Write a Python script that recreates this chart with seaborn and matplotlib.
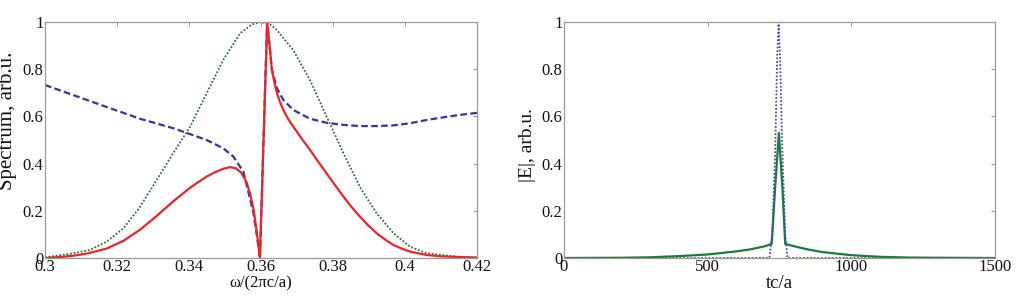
import numpy as np
import pandas as pd
import matplotlib
matplotlib.use("Agg")
import matplotlib.pyplot as plt
from matplotlib.ticker import FuncFormatter
import seaborn as sns

# --- left panel: spectra vs normalized frequency ---
w_green = [0.300, 0.3079, 0.3125, 0.3171, 0.3218, 0.3264, 0.331, 0.3356, 0.3403,
           0.3449, 0.3495, 0.3542, 0.3575, 0.360, 0.3625, 0.3644, 0.369, 0.3736, 0.3782,
           0.3829, 0.3875, 0.3921, 0.3968, 0.4014, 0.406, 0.415, 0.420]
s_green = [0.003, 0.02, 0.034, 0.069, 0.126, 0.217, 0.33, 0.444, 0.556,
           0.698, 0.839, 0.952, 0.99, 1.0, 0.99, 0.966, 0.88, 0.754, 0.60,
           0.444, 0.30, 0.19, 0.105, 0.048, 0.02, 0.005, 0.001]

w_red = [0.300, 0.304, 0.308, 0.312, 0.3171, 0.3218, 0.3264, 0.331, 0.3356, 0.3403,
         0.343, 0.3449, 0.347, 0.3495, 0.3514, 0.353, 0.3545, 0.356, 0.357, 0.358,
         0.359, 0.3597, 0.3617, 0.3624, 0.363, 0.3637, 0.3644, 0.3653, 0.3662, 0.3675,
         0.369, 0.3713, 0.3736, 0.3759, 0.3782, 0.3805, 0.3829, 0.3852, 0.3875, 0.3898,
         0.3921, 0.3945, 0.3968, 0.3991, 0.4014, 0.406, 0.410, 0.415, 0.420]
s_red = [0.0, 0.004, 0.01, 0.02, 0.04, 0.073, 0.12, 0.178, 0.24, 0.298,
         0.326, 0.345, 0.362, 0.378, 0.385, 0.38, 0.362, 0.32, 0.27, 0.20,
         0.09, 0.0, 1.0, 0.9, 0.80, 0.745, 0.70, 0.66, 0.627, 0.59,
         0.556, 0.506, 0.458, 0.408, 0.359, 0.31, 0.26, 0.215, 0.175, 0.138,
         0.105, 0.078, 0.055, 0.04, 0.027, 0.013, 0.007, 0.004, 0.002]

w_blue = [0.300, 0.3079, 0.3171, 0.3264, 0.3356, 0.3403, 0.3449, 0.3495, 0.3523,
          0.3551, 0.356, 0.3579, 0.359, 0.3597, 0.3617, 0.363, 0.3644, 0.3662,
          0.369, 0.3736, 0.3782, 0.3829, 0.3875, 0.3921, 0.3968, 0.4014, 0.406,
          0.4106, 0.415, 0.420]
s_blue = [0.733, 0.69, 0.64, 0.59, 0.55, 0.525, 0.50, 0.465, 0.43,
          0.366, 0.31, 0.19, 0.08, 0.0, 1.0, 0.80, 0.72, 0.67,
          0.627, 0.59, 0.573, 0.564, 0.559, 0.559, 0.562, 0.571, 0.585,
          0.596, 0.606, 0.615]

# --- right panel: field envelopes vs time ---
t_green = [0, 200, 300, 400, 500, 600, 650, 700, 723, 735, 748, 760, 770,
           800, 850, 900, 1000, 1100, 1200, 1300, 1500]
e_green = [0.0, 0.001, 0.003, 0.008, 0.015, 0.028, 0.037, 0.05, 0.06, 0.3, 0.53,
           0.3, 0.06, 0.05, 0.036, 0.025, 0.012, 0.005, 0.002, 0.001, 0.0]

t_blue = [0, 715, 725, 735, 742, 747, 752, 760, 770, 778, 1500]
e_blue = [0.0, 0.0, 0.1, 0.45, 0.85, 1.0, 0.85, 0.45, 0.1, 0.0, 0.0]

sns.set_theme(style="white")
plt.rcParams["font.family"] = ["Liberation Serif", "DejaVu Serif"]

fig = plt.figure(figsize=(10.16, 2.97), dpi=100)
ax1 = fig.add_axes([0.0443, 0.1313, 0.4252, 0.7946])
ax2 = fig.add_axes([0.5551, 0.1313, 0.4242, 0.7946])

sns.lineplot(x=w_blue, y=s_blue, ax=ax1, color="#34349a", lw=1.6, linestyle=(0, (3, 1.5)))
sns.lineplot(x=w_green, y=s_green, ax=ax1, color="#2f6f3a", lw=1.3, linestyle=(0, (1, 1)))
sns.lineplot(x=w_red, y=s_red, ax=ax1, color="#e5262b", lw=1.6)

sns.lineplot(x=t_green, y=e_green, ax=ax2, color="#1d7a3c", lw=1.6)
sns.lineplot(x=t_blue, y=e_blue, ax=ax2, color="#4a4ab0", lw=1.3, linestyle=(0, (1, 1)))

ax1.set_xlim(0.3, 0.42)
ax1.set_xticks([0.3, 0.32, 0.34, 0.36, 0.38, 0.4, 0.42])
ax2.set_xlim(0, 1500)
ax2.set_xticks([0, 500, 1000, 1500])

fmt = FuncFormatter(lambda v, p: "%g" % round(v, 4))
for ax in (ax1, ax2):
    ax.set_ylim(0, 1)
    ax.set_yticks([0, 0.2, 0.4, 0.6, 0.8, 1])
    ax.yaxis.set_major_formatter(fmt)
    ax.xaxis.set_major_formatter(fmt)
    ax.tick_params(direction="in", top=True, right=True, length=3, width=0.6,
                   color="#888888", labelsize=12, pad=1, labelcolor="#111111")
    for sp in ax.spines.values():
        sp.set_color("#999999")
        sp.set_linewidth(0.9)

ax1.set_xlabel("ω/(2πc/a)", fontsize=12, labelpad=0, color="#111111")
ax1.set_ylabel("Spectrum, arb.u.", fontsize=15, color="#111111")
ax1.yaxis.set_label_coords(-0.064, 0.58)
ax2.set_xlabel("tc/a", fontsize=13.5, labelpad=0, color="#111111")
ax2.set_ylabel("|E|, arb.u.", fontsize=14, color="#111111")
ax2.yaxis.set_label_coords(-0.066, 0.48)

fig.savefig("out.png", dpi=100)
